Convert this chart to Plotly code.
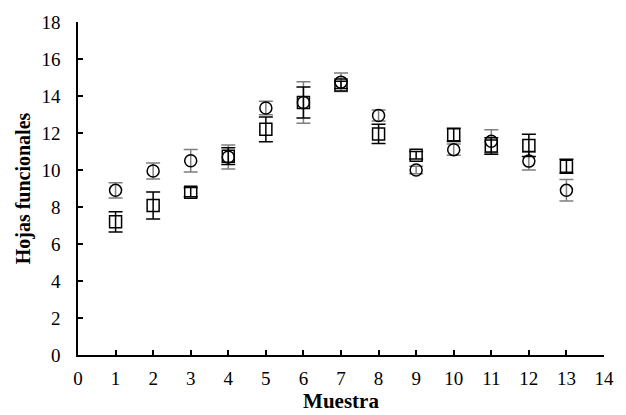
import plotly.graph_objects as go

muestra = [1, 2, 3, 4, 5, 6, 7, 8, 9, 10, 11, 12, 13]
circ_vals = [8.9, 9.95, 10.5, 10.7, 13.35, 13.65, 14.75, 12.95, 10.0, 11.1, 11.55, 10.48, 8.9]
circ_err = [0.41, 0.43, 0.61, 0.65, 0.37, 1.12, 0.5, 0.3, 0.2, 0.3, 0.62, 0.48, 0.58]
sq_vals = [7.2, 8.08, 8.8, 10.75, 12.2, 13.65, 14.6, 11.95, 10.8, 11.9, 11.3, 11.33, 10.2]
sq_err = [0.55, 0.73, 0.25, 0.45, 0.67, 0.84, 0.2, 0.52, 0.2, 0.36, 0.45, 0.6, 0.38]

fig = go.Figure()
fig.add_trace(go.Scatter(
    x=muestra, y=circ_vals, mode="markers",
    marker=dict(symbol="circle-open", size=12, color="black", line=dict(width=1.5, color="black")),
    error_y=dict(type="data", array=circ_err, visible=True, color="#7f7f7f", thickness=1.5, width=7),
    showlegend=False))
fig.add_trace(go.Scatter(
    x=muestra, y=sq_vals, mode="markers",
    marker=dict(symbol="square-open", size=12, color="black", line=dict(width=1.5, color="black")),
    error_y=dict(type="data", array=sq_err, visible=True, color="black", thickness=1.5, width=7),
    showlegend=False))

font = dict(family="Liberation Serif, Times New Roman, serif", size=19, color="black")
fig.update_layout(
    width=626, height=415,
    margin=dict(l=78, r=13, t=20, b=57),
    paper_bgcolor="white", plot_bgcolor="white",
    font=font,
    xaxis=dict(range=[0, 14], tickmode="linear", tick0=0, dtick=1,
               showline=True, linecolor="black", linewidth=1.5,
               ticks="inside", ticklen=5, tickcolor="black", tickwidth=1.5,
               showgrid=False, zeroline=False, ticklabelstandoff=5,
               title=dict(text="<b>Muestra</b>", font=dict(size=21), standoff=0)),
    yaxis=dict(range=[0, 18], tickmode="linear", tick0=0, dtick=2,
               showline=True, linecolor="black", linewidth=1.5,
               ticks="inside", ticklen=5, tickcolor="black", tickwidth=1.5,
               showgrid=False, zeroline=False, ticklabelstandoff=12,
               title=dict(text="<b>Hojas funcionales</b>", font=dict(size=20), standoff=5)),
)
fig.write_html("out.html")
